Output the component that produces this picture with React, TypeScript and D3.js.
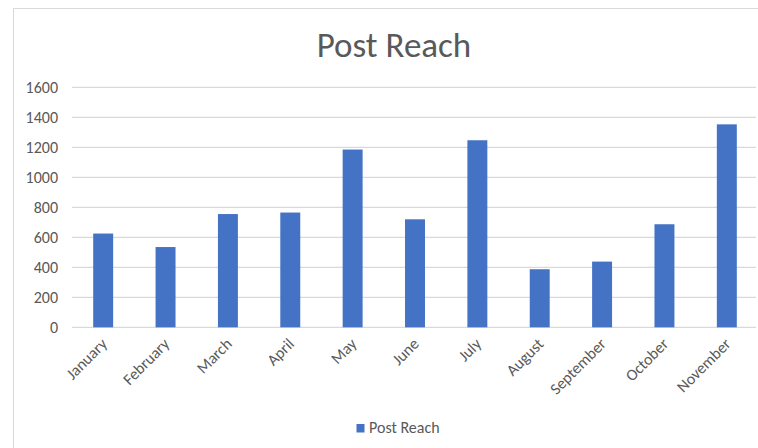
import React from "react";
import * as d3 from "d3";

const months = ["January","February","March","April","May","June","July","August","September","October","November"];
const postReach = [625, 535, 755, 765, 1185, 720, 1247, 387, 438, 687, 1353];
const yTicks = [0, 200, 400, 600, 800, 1000, 1200, 1400, 1600];
const seriesName = "Post Reach";
const title = "Post Reach";

const W = 758, H = 448;
const FONT = "Carlito, Calibri, 'Open Sans', 'Noto Sans', sans-serif";

export default function App() {
  const left = 72, right = 758, top = 87.3, bottom = 327.3;
  const x = d3.scaleBand<string>().domain(months).range([left, right]).paddingInner(0.68).paddingOuter(0.34);
  const y = d3.scaleLinear().domain([0, 1600]).range([bottom, top]);
  return (
    <svg width={W} height={H} style={{ position: "absolute", left: 0, top: 0, background: "#fff" }} fontFamily={FONT}>
      <rect x={13.5} y={8.5} width={800} height={500} fill="#fff" stroke="#d9d9d9" strokeWidth={1} />
      <text x={394} y={57} textAnchor="middle" fontSize={35} fill="#595959">{title}</text>
      {yTicks.map((t) => (
        <g key={t}>
          <line x1={left} x2={right - 2} y1={y(t)} y2={y(t)} stroke="#d9d9d9" strokeWidth={1.3} />
          <text x={58} y={y(t) + 5.5} textAnchor="end" fontSize={16} fill="#595959">{t}</text>
        </g>
      ))}
      {months.map((m, i) => (
        <rect key={m} x={x(m)} y={y(postReach[i])} width={x.bandwidth()} height={bottom - y(postReach[i])} fill="#4472C4" />
      ))}
      {months.map((m) => {
        const cx = (x(m) as number) + x.bandwidth() / 2 - 3;
        const cy = 337;
        return (
          <text key={m} transform={`translate(${cx},${cy}) rotate(-45)`} textAnchor="end" dy="0.7em" fontSize={16} fill="#595959">{m}</text>
        );
      })}
      <rect x={356.5} y={424} width={8} height={8.5} fill="#4472C4" />
      <text x={369} y={433} fontSize={16} fill="#595959">{seriesName}</text>
    </svg>
  );
}
